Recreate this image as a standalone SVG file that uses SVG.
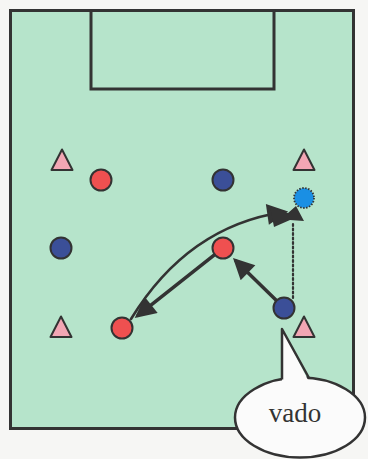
<svg xmlns="http://www.w3.org/2000/svg" width="368" height="459" viewBox="0 0 368 459">
<style>
.line{stroke:#333;fill:none;stroke-linecap:round}
.red{fill:#ef5050;stroke:#333;stroke-width:2}
.blue{fill:#3b4f98;stroke:#333;stroke-width:2}
.cone{fill:#f2a6b4;stroke:#333;stroke-width:2;stroke-linejoin:round}
.head{fill:#333}
.bub{fill:#fbfbfb}
</style>
<defs>
<marker id="ah" viewBox="0 0 20 20" refX="16" refY="10" markerWidth="23" markerHeight="21" markerUnits="userSpaceOnUse" orient="auto">
<path class="head" d="M0,0 L20,10 L0,20 z"/>
</marker>
<polygon id="tri" points="0,-10.5 10.5,10 -10.5,10"/>
</defs>
<rect width="368" height="459" fill="#f6f6f4"/>
<g id="field">
<rect x="10.5" y="10.5" width="343" height="418" fill="#b6e4cb" stroke="#333" stroke-width="3"/>
<rect x="91" y="10.5" width="183" height="78.5" fill="none" stroke="#333" stroke-width="3"/>
</g>
<g id="cones">
<use href="#tri" class="cone" x="62" y="160"/>
<use href="#tri" class="cone" x="304" y="160"/>
<use href="#tri" class="cone" x="61" y="327"/>
<use href="#tri" class="cone" x="304" y="327"/>
</g>
<g id="connectors">
<path class="line" stroke-width="2.2" stroke-dasharray="2,2.5" d="M293,224 L293,298"/>
<path class="line" stroke-width="2.6" d="M131,319 Q188,226 284,212" marker-end="url(#ah)"/>
<polygon class="head" points="270,207 288,213 296,206 304,221 290,220 274,227"/>
<path class="line" stroke-width="3.5" d="M214.4,254.8 L138,315.3" marker-end="url(#ah)"/>
<path class="line" stroke-width="3.5" d="M276.2,300.3 L236,261" marker-end="url(#ah)"/>
</g>
<g id="players">
<circle id="r1" class="red" cx="101" cy="180" r="10.5"/>
<circle id="b1" class="blue" cx="223" cy="180" r="10.5"/>
<circle id="lb" cx="304" cy="198" r="10" fill="#1a8fe4" stroke="#333" stroke-width="1.8" stroke-dasharray="1.5,1.5"/>
<circle id="b2" class="blue" cx="61" cy="248" r="10.5"/>
<circle id="r2" class="red" cx="223" cy="248" r="10.5"/>
<circle id="b3" class="blue" cx="284" cy="308" r="10.5"/>
<circle id="r3" class="red" cx="122" cy="328" r="10.5"/>
</g>
<g id="bubble">
<ellipse class="bub" cx="300" cy="417.5" rx="65" ry="40" stroke="#333" stroke-width="2.5"/>
<polygon class="bub" points="282,384 282,329 309,382"/>
<path d="M282,379.5 L282,329 L309,378" fill="none" stroke="#333" stroke-width="2.5" stroke-linejoin="round"/>
<text x="295" y="421.5" text-anchor="middle" font-family="'Liberation Serif', serif" font-size="27" fill="#333">vado</text>
</g>
</svg>
